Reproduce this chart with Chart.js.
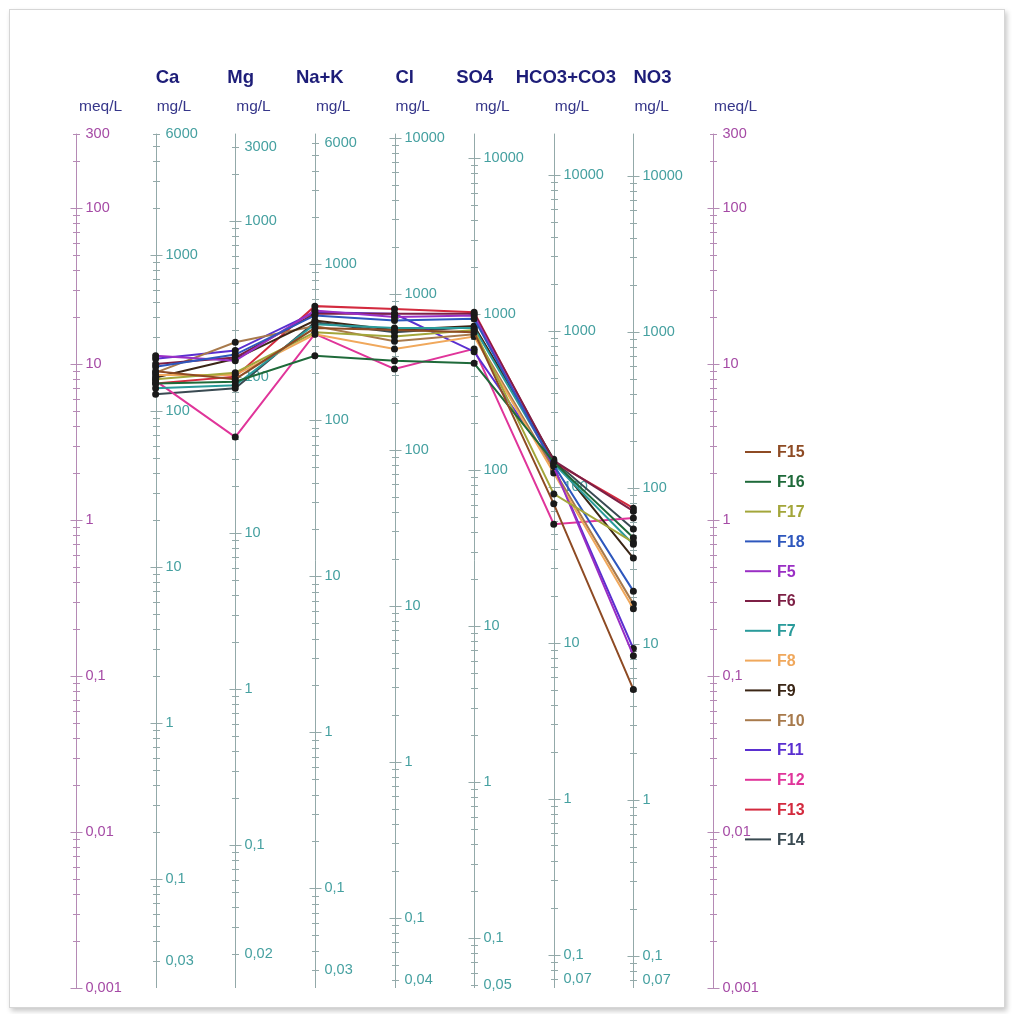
<!DOCTYPE html>
<html>
<head>
<meta charset="utf-8">
<script src="https://cdn.jsdelivr.net/npm/chart.js@4/dist/chart.umd.min.js"></script>
<style>
  html,body{margin:0;padding:0;background:#fff;}
  #frame{position:absolute;left:9px;top:9px;width:994px;height:997px;border:1px solid #d6d6d6;box-shadow:2px 3px 5px rgba(0,0,0,0.22);background:#fff;}
  #c{position:absolute;left:0;top:0;}
</style>
</head>
<body>
<div id="frame"></div>
<canvas id="c" width="1013" height="1014"></canvas>
<script>
// ---------- DATA ----------
const columns = ['Ca', 'Mg', 'Na+K', 'Cl', 'SO4', 'HCO3+CO3', 'NO3'];
const mgPerMeq = [20.04, 12.15, 23.0, 35.45, 48.03, 61.02, 62.0];
const meqTicks = [300, 100, 10, 1, 0.1, 0.01, 0.001];
const caTicks   = [6000, 1000, 100, 10, 1, 0.1, 0.03];
const mgTicks   = [3000, 1000, 100, 10, 1, 0.1, 0.02];
const nakTicks  = [6000, 1000, 100, 10, 1, 0.1, 0.03];
const clTicks   = [10000, 1000, 100, 10, 1, 0.1, 0.04];
const so4Ticks  = [10000, 1000, 100, 10, 1, 0.1, 0.05];
const hco3Ticks = [10000, 1000, 100, 10, 1, 0.1, 0.07];
const no3Ticks  = [10000, 1000, 100, 10, 1, 0.1, 0.07];
const columnTicks = [caTicks, mgTicks, nakTicks, clTicks, so4Ticks, hco3Ticks, no3Ticks];

// meq/L values: Ca, Mg, Na+K, Cl, SO4, HCO3+CO3, NO3
const F15 = [9.0, 8.0, 17.0, 16.5, 16.0, 1.27, 0.082];
const F16 = [7.5, 7.7, 11.3, 10.5, 10.1, 2.35, 0.77];
const F17 = [8.0, 8.8, 16.0, 15.0, 16.5, 1.47, 0.72];
const F18 = [9.6, 11.5, 20.5, 19.0, 19.5, 2.25, 0.35];
const F5  = [11.3, 10.5, 22.0, 20.0, 20.5, 2.2, 0.135];
const F6  = [10.0, 11.0, 21.0, 21.0, 21.0, 2.4, 1.14];
const F7  = [7.0, 7.3, 18.0, 17.0, 17.0, 2.3, 0.70];
const F8  = [8.5, 8.5, 15.5, 12.5, 15.0, 2.0, 0.27];
const F9  = [8.2, 10.8, 19.0, 16.5, 17.5, 2.45, 0.57];
const F10 = [8.8, 13.8, 17.5, 14.0, 15.5, 2.1, 0.29];
const F11 = [10.8, 12.2, 21.5, 21.0, 12.0, 2.2, 0.15];
const F12 = [7.8, 3.4, 15.6, 9.3, 12.5, 0.94, 1.03];
const F13 = [7.5, 8.3, 23.5, 22.5, 21.5, 2.35, 1.19];
const F14 = [6.4, 7.0, 18.5, 16.0, 17.3, 2.4, 0.875];

const seriesNames  = ['F15','F16','F17','F18','F5','F6','F7','F8','F9','F10','F11','F12','F13','F14'];
const seriesValues = [F15, F16, F17, F18, F5, F6, F7, F8, F9, F10, F11, F12, F13, F14];
const seriesColors = ['#8e4b24','#1f6a3a','#a3a63a','#2e57bd','#9a2fc4','#7d1f45','#2a9b9b','#f0a85c','#3b2616','#a87a4c','#5a2fd0','#e0359a','#d32a3e','#3a4a52'];

// ---------- CHART ----------
function fmt(v){ return String(v).replace('.', ','); }

const axesPlugin = {
  id: 'schoellerAxes',
  beforeDatasetsDraw(chart){
    const ctx = chart.ctx, xs = chart.scales.x, ys = chart.scales.y;
    const yTop = ys.getPixelForValue(300), yBot = ys.getPixelForValue(0.001);
    const tickFont = '14.5px "Liberation Sans", Arial, sans-serif';
    ctx.save();
    ctx.lineWidth = 1;
    // meq axes
    [0, 8].forEach(xi => {
      const x = Math.round(xs.getPixelForValue(xi)) + 0.5;
      ctx.strokeStyle = '#b58ab5';
      ctx.beginPath(); ctx.moveTo(x, yTop); ctx.lineTo(x, yBot); ctx.stroke();
      for (let k = -3; k <= 2; k++) for (let d = 1; d <= 9; d++) {
        const v = d * Math.pow(10, k);
        if (v > 300 * 1.0001 || v < 0.001 * 0.9999) continue;
        const y = Math.round(ys.getPixelForValue(v)) + 0.5, h = d === 1 ? 6 : 3.5;
        ctx.beginPath(); ctx.moveTo(x - h, y); ctx.lineTo(x + h, y); ctx.stroke();
      }
      ctx.fillStyle = '#a54aa5'; ctx.font = tickFont; ctx.textBaseline = 'middle'; ctx.textAlign = 'left';
      meqTicks.forEach(v => ctx.fillText(fmt(v), x + 9, ys.getPixelForValue(v)));
    });
    // mg/L column axes
    columns.forEach((c, i) => {
      const x = Math.round(xs.getPixelForValue(i + 1)) + 0.5, f = mgPerMeq[i];
      ctx.strokeStyle = '#93a9a9';
      ctx.beginPath(); ctx.moveTo(x, yTop); ctx.lineTo(x, yBot); ctx.stroke();
      for (let k = -3; k <= 5; k++) for (let d = 1; d <= 9; d++) {
        const m = d * Math.pow(10, k), v = m / f;
        if (v > 300 || v < 0.001) continue;
        const y = Math.round(ys.getPixelForValue(v)) + 0.5, h = d === 1 ? 6 : 3.5;
        ctx.beginPath(); ctx.moveTo(x - h, y); ctx.lineTo(x + h, y); ctx.stroke();
      }
      ctx.fillStyle = '#45a0a0'; ctx.font = tickFont; ctx.textBaseline = 'middle'; ctx.textAlign = 'left';
      columnTicks[i].forEach(m => ctx.fillText(fmt(m), x + 9, ys.getPixelForValue(m / f)));
    });
    // headers and units
    const headerDx = [0, -8, -19, 1, -18, -38, 0];
    ctx.textBaseline = 'middle'; ctx.textAlign = 'left';
    columns.forEach((c, i) => {
      const x = xs.getPixelForValue(i + 1);
      ctx.fillStyle = '#1d1d78'; ctx.font = 'bold 18.5px "Liberation Sans", Arial, sans-serif';
      ctx.fillText(c, x + headerDx[i], 78);
      ctx.fillStyle = '#36368a'; ctx.font = '15.5px "Liberation Sans", Arial, sans-serif';
      ctx.fillText('mg/L', x + 1, 107);
    });
    ctx.fillStyle = '#36368a'; ctx.font = '15.5px "Liberation Sans", Arial, sans-serif';
    ctx.fillText('meq/L', xs.getPixelForValue(0) + 3, 107);
    ctx.fillText('meq/L', xs.getPixelForValue(8) + 1, 107);
    ctx.restore();
  },
  afterDraw(chart){
    const ctx = chart.ctx;
    ctx.save();
    ctx.textBaseline = 'middle'; ctx.textAlign = 'left';
    ctx.font = 'bold 16px "Liberation Sans", Arial, sans-serif';
    chart.data.datasets.forEach((ds, i) => {
      const y = 452 + i * 29.8;
      ctx.strokeStyle = ds.borderColor; ctx.lineWidth = 2;
      ctx.beginPath(); ctx.moveTo(745, y); ctx.lineTo(771, y); ctx.stroke();
      ctx.fillStyle = ds.borderColor;
      ctx.fillText(ds.label, 777, y + 1);
    });
    ctx.restore();
  }
};

new Chart(document.getElementById('c'), {
  type: 'line',
  data: {
    datasets: seriesNames.map((n, i) => ({
      label: n,
      data: seriesValues[i].map((v, j) => ({ x: j + 1, y: v })),
      borderColor: seriesColors[i],
      backgroundColor: seriesColors[i],
      pointBackgroundColor: '#1a1a1a',
      pointBorderColor: '#1a1a1a',
      pointRadius: 2.5,
      borderWidth: 2,
      tension: 0,
      fill: false
    }))
  },
  options: {
    responsive: false,
    animation: false,
    devicePixelRatio: 1,
    layout: { padding: { left: 76, right: 300, top: 133.6, bottom: 26 } },
    scales: {
      x: { type: 'linear', min: 0, max: 8, display: false },
      y: { type: 'logarithmic', min: 0.001, max: 300, display: false }
    },
    plugins: { legend: { display: false }, tooltip: { enabled: false } }
  },
  plugins: [axesPlugin]
});
</script>
</body>
</html>
